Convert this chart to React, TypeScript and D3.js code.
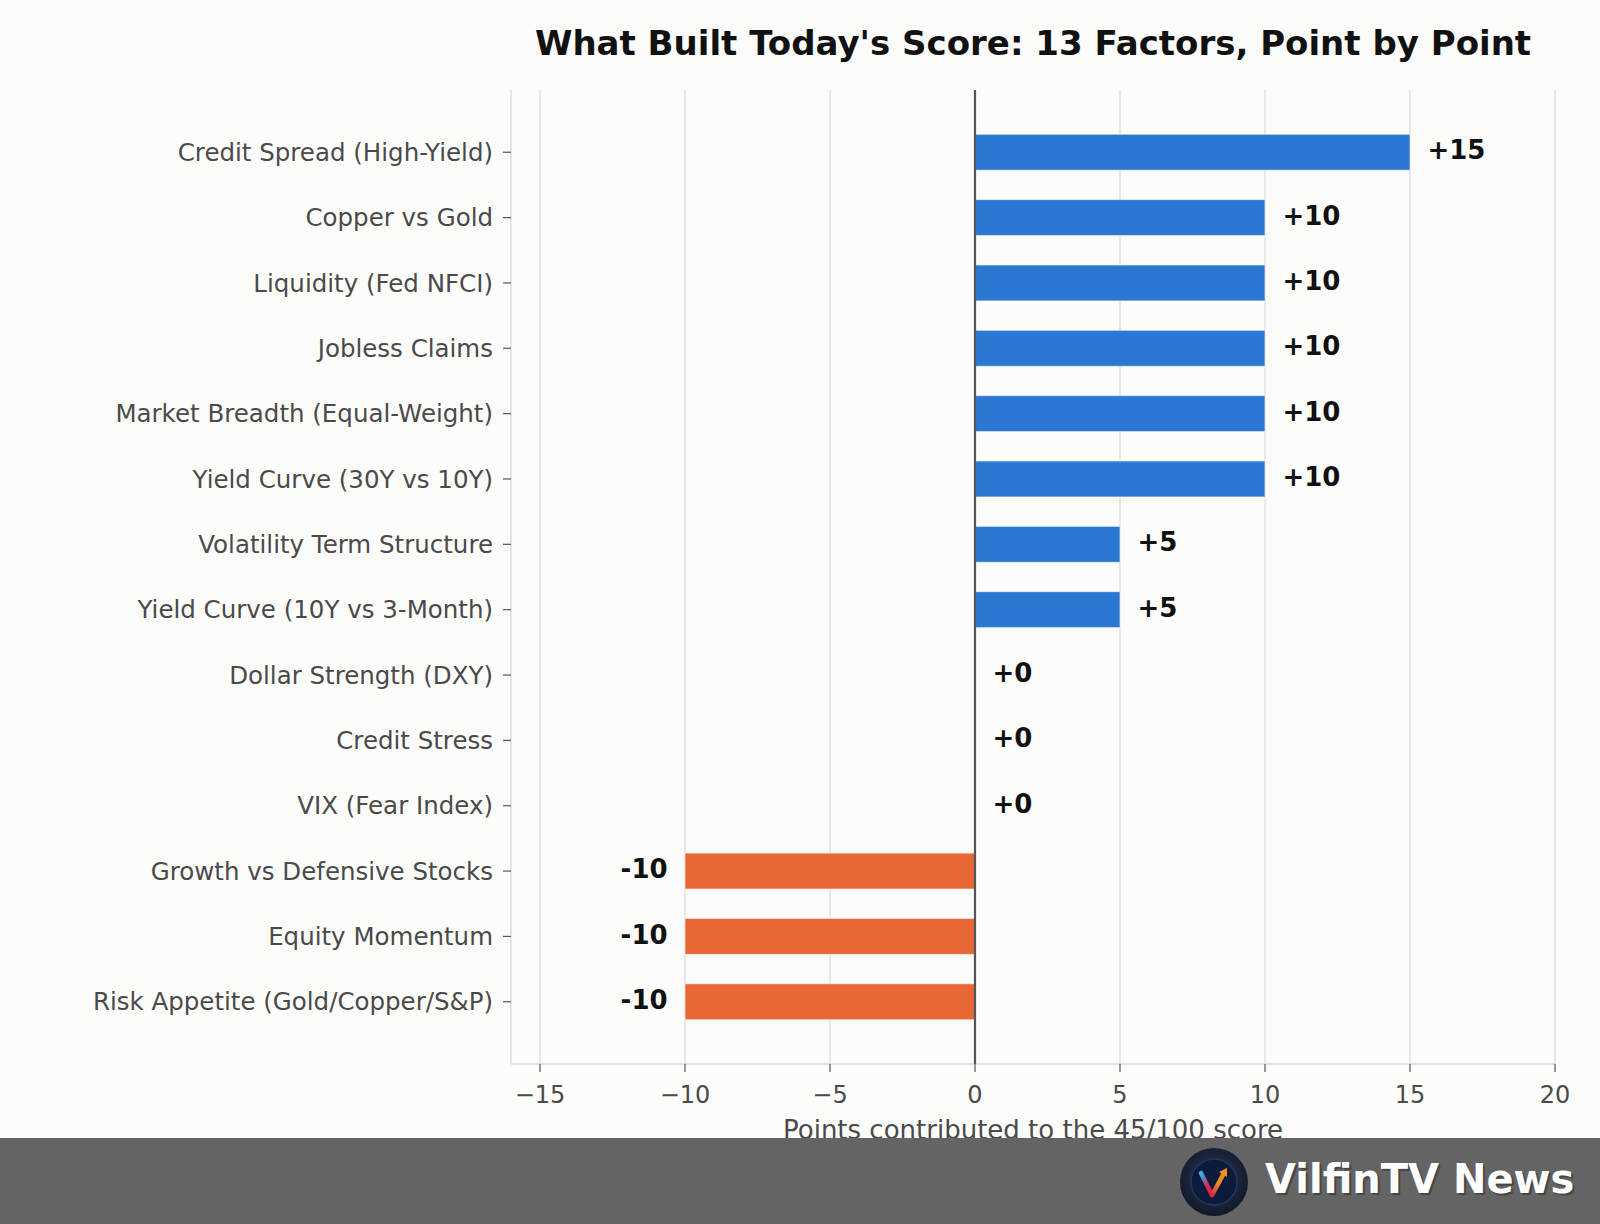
import React from "react";
import * as d3 from "d3";

const factors = [
  "Credit Spread (High-Yield)",
  "Copper vs Gold",
  "Liquidity (Fed NFCI)",
  "Jobless Claims",
  "Market Breadth (Equal-Weight)",
  "Yield Curve (30Y vs 10Y)",
  "Volatility Term Structure",
  "Yield Curve (10Y vs 3-Month)",
  "Dollar Strength (DXY)",
  "Credit Stress",
  "VIX (Fear Index)",
  "Growth vs Defensive Stocks",
  "Equity Momentum",
  "Risk Appetite (Gold/Copper/S&P)",
];
const points = [15, 10, 10, 10, 10, 10, 5, 5, 0, 0, 0, -10, -10, -10];
const xTicks = [-15, -10, -5, 0, 5, 10, 15, 20];

const W = 1600;
const H = 1224;
const FONT = "DejaVu Sans, sans-serif";
const BLUE = "#2b78d4";
const ORANGE = "#e96635";

const left = 511;
const right = 1555;
const top = 90;
const bottom = 1064;
const barH = 0.55;

const Logo = ({cx, cy}: {cx: number; cy: number}) => (
  <g>
    <defs>
      <radialGradient id="ring" cx="50%" cy="45%" r="55%">
        <stop offset="0%" stopColor="#2c3a5c"/>
        <stop offset="100%" stopColor="#111829"/>
      </radialGradient>
      <linearGradient id="vleft" x1="0" y1="0" x2="1" y2="1">
        <stop offset="0%" stopColor="#2ab4f0"/>
        <stop offset="60%" stopColor="#d92a4a"/>
      </linearGradient>
      <linearGradient id="vright" x1="0" y1="1" x2="1" y2="0">
        <stop offset="0%" stopColor="#d92a4a"/>
        <stop offset="50%" stopColor="#f08a22"/>
      </linearGradient>
    </defs>
    <circle cx={cx} cy={cy} r={34} fill="url(#ring)"/>
    <circle cx={cx} cy={cy} r={23} fill="#0c1a3c" stroke="#24355c" strokeWidth={1.5}/>
    <path d={`M${cx - 13},${cy - 9} L${cx - 2},${cy + 13}`} stroke="url(#vleft)" strokeWidth={4.5} strokeLinecap="round" fill="none"/>
    <path d={`M${cx - 2},${cy + 13} L${cx + 10},${cy - 9}`} stroke="url(#vright)" strokeWidth={4.5} strokeLinecap="round" fill="none"/>
    <path d={`M${cx + 13},${cy - 14} L${cx + 5},${cy - 10} L${cx + 13},${cy - 5} Z`} fill="#f5901f"/>
  </g>
);

export default function App() {
  const x = d3.scaleLinear().domain([-16, 20]).range([left, right]);
  const pad = barH / 2 + (factors.length - 1 + barH) * 0.05;
  const y = d3
    .scaleLinear()
    .domain([-pad, factors.length - 1 + pad])
    .range([top, bottom]);
  const bandPx = y(barH) - y(0);

  return (
    <svg
      width={W}
      height={H}
      style={{display: "block", position: "absolute", left: 0, top: 0}}
      fontFamily={FONT}
    >
      <rect x={0} y={0} width={W} height={H} fill="#fcfcfa"/>
      <text x={(left + right) / 2} y={55} textAnchor="middle" fontSize={34} fontWeight="bold" fill="#111">
        What Built Today's Score: 13 Factors, Point by Point
      </text>

      {/* grid */}
      {xTicks.map(t => (
        <line key={t} x1={x(t)} x2={x(t)} y1={top} y2={bottom} stroke="#e2e2e2" strokeWidth={1.5}/>
      ))}
      <line x1={left} x2={left} y1={top} y2={bottom} stroke="#dcdcdc" strokeWidth={1.5}/>
      <line x1={left} x2={right} y1={bottom} y2={bottom} stroke="#dcdcdc" strokeWidth={1.5}/>

      {/* bars */}
      {points.map((v, i) => (
        <rect
          key={i}
          x={x(Math.min(0, v))}
          y={y(i) - bandPx / 2}
          width={Math.abs(x(v) - x(0))}
          height={bandPx}
          fill={v >= 0 ? BLUE : ORANGE}
          stroke="#ffffff"
          strokeOpacity={0.6}
          strokeWidth={1}
        />
      ))}
      <line x1={x(0)} x2={x(0)} y1={top} y2={bottom} stroke="#555" strokeWidth={2.2}/>

      {/* value labels */}
      {points.map((v, i) => (
        <text
          key={i}
          x={v >= 0 ? x(v + 0.6) : x(v - 0.6)}
          y={y(i) - 2}
          dy="0.35em"
          textAnchor={v >= 0 ? "start" : "end"}
          fontSize={26}
          fontWeight="bold"
          fill="#111"
        >
          {v >= 0 ? `+${v}` : `${v}`}
        </text>
      ))}

      {/* y axis */}
      {factors.map((f, i) => (
        <g key={f}>
          <line x1={left - 8} x2={left} y1={y(i)} y2={y(i)} stroke="#555" strokeWidth={1.2}/>
          <text x={left - 18} y={y(i)} dy="0.35em" textAnchor="end" fontSize={24.5} fill="#4a4a4a">
            {f}
          </text>
        </g>
      ))}

      {/* x axis */}
      {xTicks.map(t => (
        <g key={t}>
          <line x1={x(t)} x2={x(t)} y1={bottom} y2={bottom + 8} stroke="#555" strokeWidth={1.2}/>
          <text x={x(t)} y={bottom + 31} dy="0.35em" textAnchor="middle" fontSize={24} fill="#4a4a4a">
            {t < 0 ? `\u2212${Math.abs(t)}` : t}
          </text>
        </g>
      ))}
      <text x={(left + right) / 2} y={1130} dy="0.35em" textAnchor="middle" fontSize={26} fill="#4a4a4a">
        Points contributed to the 45/100 score
      </text>

      {/* footer */}
      <rect x={0} y={1138} width={W} height={H - 1138} fill="#646464"/>
      <Logo cx={1214} cy={1182}/>
      <text x={1265} y={1193} fontSize={40} fontWeight="bold" fill="#2a2a2a" opacity={0.5} transform="translate(2,2)">
        VilfinTV News
      </text>
      <text x={1265} y={1193} fontSize={40} fontWeight="bold" fill="#ffffff">
        VilfinTV News
      </text>
    </svg>
  );
}
